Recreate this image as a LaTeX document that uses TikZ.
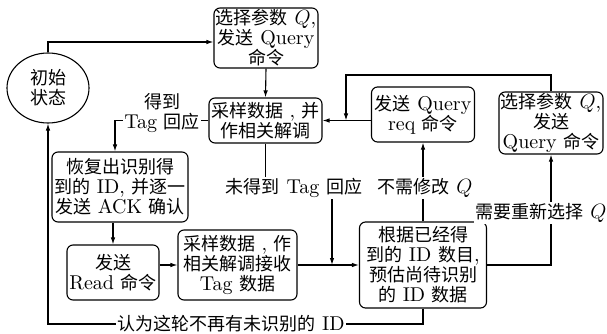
\documentclass[tikz,border=0pt]{standalone}
\usepackage{fontspec}
\setmainfont{lmroman10}[Extension=.otf, UprightFont=*-regular, ItalicFont=*-italic, BoldFont=*-bold]
\newfontfamily\cjk[Scale=0.9]{Noto Sans CJK SC}
\newcommand{\zh}[1]{{\cjk #1}}
\usetikzlibrary{arrows.meta,shapes.geometric}
\begin{document}
\begin{tikzpicture}[x=1pt,y=-1pt,
  txt/.style={font=\fontsize{20}{20}\selectfont, align=center},
  box/.style={txt, draw, rounded corners=6pt, line width=1.1pt, inner sep=0pt},
  lab/.style={txt, fill=white, inner sep=1.5pt},
  ln/.style={line width=1.1pt},
  arr/.style={ln, -{Latex[length=7pt,width=4.5pt]}}]
\useasboundingbox (0,0) rectangle (607,334);
% nodes
\node[txt, draw, ellipse, line width=1.1pt, inner sep=0pt, minimum width=82pt, minimum height=70pt] (ell) at (48,88) {\zh{初始}\\\zh{状态}};
\node[box, minimum width=104pt, minimum height=60pt] (b1) at (266,38) {\zh{选择参数} $Q$,\\\zh{发送} Query\\\zh{命令}};
\node[box, minimum width=113pt, minimum height=45pt] (b2) at (265.5,120.5) {\zh{采样数据} , \zh{并}\\\zh{作相关解调}};
\node[box, minimum width=136pt, minimum height=70pt] (b3) at (120,187) {\zh{恢复出识别得}\\\zh{到的} ID, \zh{并逐一}\\\zh{发送} ACK \zh{确认}};
\node[box, minimum width=92pt, minimum height=55pt] (b4) at (113,272.5) {\zh{发送}\\Read \zh{命令}};
\node[box, minimum width=119pt, minimum height=70pt] (b5) at (237.5,265) {\zh{采样数据} , \zh{作}\\\zh{相关解调接收}\\Tag \zh{数据}};
\node[box, minimum width=127pt, minimum height=86pt] (b6) at (423,265) {\zh{根据已经得}\\\zh{到的} ID \zh{数目},\\\zh{预估尚待识别}\\\zh{的} ID \zh{数据}};
\node[box, minimum width=103pt, minimum height=55pt] (b7) at (423,114.5) {\zh{发送} Query\\req \zh{命令}};
\node[box, minimum width=104pt, minimum height=62pt] (b8) at (551,123) {\zh{选择参数} $Q$,\\\zh{发送}\\Query \zh{命令}};
% turning points
\coordinate (c1) at (332,188);
\coordinate (c2) at (346,75);
\coordinate (c3) at (48,324);
% connectors
\draw[arr] (ell.north) |- ([yshift=-4pt]b1.west);
\draw[arr] (b1.south) -- (b2.north);
\draw[arr] (b2.west) -| ([xshift=-5pt]b3.north);
\draw[arr] (b2.south) |- (c1) -- (c1 |- b6.west);
\draw[arr] (b3.south -| b4.north) -- (b4.north);
\draw[arr] (b4.east |- b5.west) -- (b5.west);
\draw[arr] (b5.east) -- (b6.west);
\draw[arr] (b6.north) -- (b7.south);
\draw[arr] (b2.east -| b7.west) -- (b2.east);
\draw[arr] (b8.north) |- (c2) -- (c2 |- b2.east);
\draw[arr] (b6.east) -| (b8.south);
\draw[arr] (b6.south) |- (c3) -- (ell.south);
% labels
\node[lab] (l1) at (162,113) {\zh{得到}\\Tag \zh{回应}};
\node[lab] (l2) at (294,188) {\zh{未得到} Tag \zh{回应}};
\node[lab] (l3) at (425,188) {\zh{不需修改} $Q$};
\node[lab] (l4) at (541,213) {\zh{需要重新选择} $Q$};
\node[lab] (l5) at (231,324) {\zh{认为这轮不再有未识别的} ID};
\end{tikzpicture}
\end{document}
